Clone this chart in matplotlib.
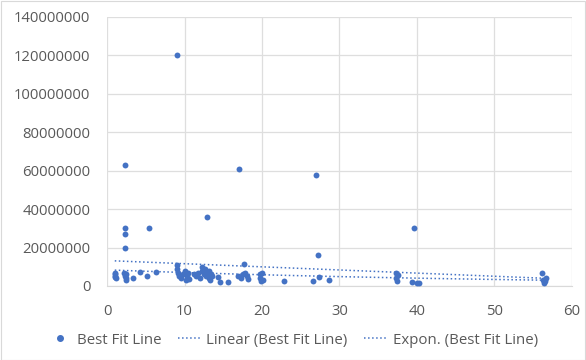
import numpy as np
import matplotlib.pyplot as plt
from matplotlib.lines import Line2D

# data (y in millions)
x = [1.0, 1.0, 1.0, 1.0, 1.1,
     2.2, 2.3, 2.3, 2.3, 2.3, 2.3, 2.4, 2.4, 2.4,
     3.4, 4.3, 5.1, 5.4, 6.3,
     9.0, 9.0, 9.0, 9.1, 9.3, 9.5, 9.8, 10.0, 10.2, 10.3, 10.5, 10.6,
     11.2, 11.5, 11.8, 12.0, 12.2, 12.3, 12.5, 12.6, 12.8, 12.9, 13.0, 13.1, 13.2, 13.3, 13.5, 13.4,
     14.3, 14.6, 15.6,
     16.9, 17.0, 17.3, 17.6, 17.7, 17.8, 18.0, 18.2,
     19.7, 19.8, 19.9, 20.0, 20.1,
     22.8, 26.6, 27.0, 27.2, 27.3, 28.6,
     37.3, 37.3, 37.4, 37.5, 39.3, 39.6, 40.0, 40.2,
     56.1, 56.2, 56.4, 56.5, 56.6]
y_m = [7, 6, 5, 4.5, 4,
       7, 63, 30, 27, 20, 5, 4, 3, 6,
       4.3, 7.1, 5, 30, 7.5,
       120, 11, 9, 7, 5, 4, 6, 8, 3, 5, 7, 3.5,
       6, 5, 7, 4, 10, 8, 6, 9, 5, 36, 7, 4, 8, 3, 5, 6,
       4.7, 2, 2,
       5, 61, 4, 6, 11.5, 7, 5, 3.5,
       6, 4, 2.5, 7, 3,
       2.8, 2.8, 58, 16, 4.8, 3,
       6.6, 4.2, 2.6, 5.5, 2.2, 30, 1.5, 1.5,
       6.6, 3.1, 1.5, 2.5, 4]

y_ticks = [0, 20000000, 40000000, 60000000, 80000000, 100000000, 120000000, 140000000]
x_ticks = [0, 10, 20, 30, 40, 50, 60]

x = np.array(x)
y = np.array(y_m) * 1e6

blue = '#4472C4'
grey = '#595959'
plt.rcParams['font.family'] = ['Open Sans', 'DejaVu Sans']

fig = plt.figure(figsize=(5.86, 3.6), dpi=100)
ax = fig.add_axes([0.1826, 0.2056, 0.7935, 0.7472])

ax.scatter(x, y, s=18, color=blue, zorder=3, linewidths=0)

# trendlines fitted from the points
xs = np.linspace(x.min(), x.max(), 100)
m, b = np.polyfit(x, y, 1)
ax.plot(xs, m * xs + b, ls=':', color=blue, lw=1.1, zorder=2)
em, eb = np.polyfit(x, np.log(y), 1)
ax.plot(xs, np.exp(eb + em * xs), ls=':', color=blue, lw=1.1, zorder=2)

ax.set_xlim(0, 60)
ax.set_ylim(0, 140000000)
ax.set_xticks(x_ticks)
ax.set_yticks(y_ticks)
ax.set_yticklabels([str(v) for v in y_ticks])
ax.grid(True, color='#dedede', lw=0.9)
ax.set_axisbelow(True)
for s in ['top', 'right', 'left']:
    ax.spines[s].set_visible(False)
ax.spines['bottom'].set_color('#d9d9d9')
ax.tick_params(length=0, colors=grey, labelsize=10.7)
ax.tick_params(axis='x', pad=13)
ax.tick_params(axis='y', pad=12)

handles = [Line2D([], [], marker='o', ls='none', color=blue, markersize=4),
           Line2D([], [], ls=':', color=blue, lw=1.1),
           Line2D([], [], ls=':', color=blue, lw=1.1)]
labels = ['Best Fit Line', 'Linear (Best Fit Line)', 'Expon. (Best Fit Line)']
fig.legend(handles, labels, loc='center', bbox_to_anchor=(0.5, 0.055), ncol=3,
           frameon=False, fontsize=10.8, labelcolor=grey, handlelength=1.6,
           handletextpad=0.3, columnspacing=1.1)

fig.patches.append(plt.Rectangle((0.001, 0.001), 0.997, 0.997, transform=fig.transFigure,
                                 fill=False, edgecolor='#d9d9d9', lw=0.8))

fig.savefig('out.png', dpi=100)
